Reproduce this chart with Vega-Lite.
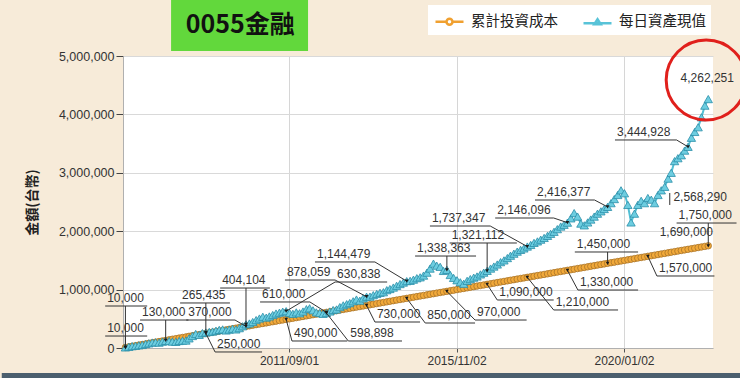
{
"$schema": "https://vega.github.io/schema/vega-lite/v6.json",
"width": 590, "height": 292, "autosize": {"type": "none"},
"padding": {"left": 123, "top": 56, "right": 27, "bottom": 30},
"background": "#f7ebd9",
"view": {"fill": "white", "stroke": null},
"config": {
  "font": "Liberation Sans",
  "legend": {"orient": "none", "legendX": 305, "legendY": -51, "direction": "horizontal", "fillColor": "white", "padding": 5, "symbolSize": 400, "symbolStrokeWidth": 2.5, "labelOffset": 15, "columnPadding": 20, "labelFont": "Noto Sans CJK TC", "labelFontSize": 14.5, "labelColor": "#222", "title": null}
},
"datasets": {
"m": [
{"d":"2007-08-06","c":10000,"v":10000},{"d":"2007-09-06","c":20000,"v":20500},{"d":"2007-10-06","c":30000,"v":31000},{"d":"2007-11-06","c":40000,"v":37500},{"d":"2007-12-06","c":50000,"v":46000},{"d":"2008-01-06","c":60000,"v":52000},{"d":"2008-02-06","c":70000,"v":68000},{"d":"2008-03-06","c":80000,"v":80000},{"d":"2008-04-06","c":90000,"v":94000},{"d":"2008-05-06","c":100000,"v":98000},{"d":"2008-06-06","c":110000,"v":92000},{"d":"2008-07-06","c":120000,"v":108000},
{"d":"2008-08-06","c":130000,"v":122000},{"d":"2008-09-06","c":140000,"v":118000},{"d":"2008-10-06","c":150000,"v":110000},{"d":"2008-11-06","c":160000,"v":105000},{"d":"2008-12-06","c":170000,"v":120000},{"d":"2009-01-06","c":180000,"v":125000},{"d":"2009-02-06","c":190000,"v":128000},{"d":"2009-03-06","c":200000,"v":165000},{"d":"2009-04-06","c":210000,"v":205000},{"d":"2009-05-06","c":220000,"v":240000},{"d":"2009-06-06","c":230000,"v":225000},{"d":"2009-07-06","c":240000,"v":255000},
{"d":"2009-08-06","c":250000,"v":265435},{"d":"2009-09-06","c":260000,"v":275000},{"d":"2009-10-06","c":270000,"v":282000},{"d":"2009-11-06","c":280000,"v":296000},{"d":"2009-12-06","c":290000,"v":310000},{"d":"2010-01-06","c":300000,"v":318000},{"d":"2010-02-06","c":310000,"v":300000},{"d":"2010-03-06","c":320000,"v":315000},{"d":"2010-04-06","c":330000,"v":330000},{"d":"2010-05-06","c":340000,"v":318000},{"d":"2010-06-06","c":350000,"v":340000},{"d":"2010-07-06","c":360000,"v":372000},
{"d":"2010-08-06","c":370000,"v":404104},{"d":"2010-09-06","c":380000,"v":420000},{"d":"2010-10-06","c":390000,"v":445000},{"d":"2010-11-06","c":400000,"v":478000},{"d":"2010-12-06","c":410000,"v":505000},{"d":"2011-01-06","c":420000,"v":535000},{"d":"2011-02-06","c":430000,"v":520000},{"d":"2011-03-06","c":440000,"v":540000},{"d":"2011-04-06","c":450000,"v":565000},{"d":"2011-05-06","c":460000,"v":590000},{"d":"2011-06-06","c":470000,"v":605000},{"d":"2011-07-06","c":480000,"v":622000},
{"d":"2011-08-06","c":490000,"v":630838},{"d":"2011-09-06","c":500000,"v":600000},{"d":"2011-10-06","c":510000,"v":585000},{"d":"2011-11-06","c":520000,"v":610000},{"d":"2011-12-06","c":530000,"v":595000},{"d":"2012-01-06","c":540000,"v":625000},{"d":"2012-02-06","c":550000,"v":665000},{"d":"2012-03-06","c":560000,"v":680000},{"d":"2012-04-06","c":570000,"v":645000},{"d":"2012-05-06","c":580000,"v":610000},{"d":"2012-06-06","c":590000,"v":600000},{"d":"2012-07-06","c":600000,"v":585000},
{"d":"2012-08-06","c":610000,"v":598898},{"d":"2012-09-06","c":620000,"v":625000},{"d":"2012-10-06","c":630000,"v":650000},{"d":"2012-11-06","c":640000,"v":660000},{"d":"2012-12-06","c":650000,"v":700000},{"d":"2013-01-06","c":660000,"v":730000},{"d":"2013-02-06","c":670000,"v":750000},{"d":"2013-03-06","c":680000,"v":770000},{"d":"2013-04-06","c":690000,"v":800000},{"d":"2013-05-06","c":700000,"v":830000},{"d":"2013-06-06","c":710000,"v":810000},{"d":"2013-07-06","c":720000,"v":850000},
{"d":"2013-08-06","c":730000,"v":878059},{"d":"2013-09-06","c":740000,"v":880000},{"d":"2013-10-06","c":750000,"v":905000},{"d":"2013-11-06","c":760000,"v":925000},{"d":"2013-12-06","c":770000,"v":945000},{"d":"2014-01-06","c":780000,"v":955000},{"d":"2014-02-06","c":790000,"v":990000},{"d":"2014-03-06","c":800000,"v":1010000},{"d":"2014-04-06","c":810000,"v":1035000},{"d":"2014-05-06","c":820000,"v":1065000},{"d":"2014-06-06","c":830000,"v":1095000},{"d":"2014-07-06","c":840000,"v":1120000},
{"d":"2014-08-06","c":850000,"v":1144479},{"d":"2014-09-06","c":860000,"v":1150000},{"d":"2014-10-06","c":870000,"v":1170000},{"d":"2014-11-06","c":880000,"v":1195000},{"d":"2014-12-06","c":890000,"v":1210000},{"d":"2015-01-06","c":900000,"v":1240000},{"d":"2015-02-06","c":910000,"v":1290000},{"d":"2015-03-06","c":920000,"v":1360000},{"d":"2015-04-06","c":930000,"v":1445000},{"d":"2015-05-06","c":940000,"v":1410000},{"d":"2015-06-06","c":950000,"v":1390000},{"d":"2015-07-06","c":960000,"v":1320000},
{"d":"2015-08-06","c":970000,"v":1338363},{"d":"2015-09-06","c":980000,"v":1250000},{"d":"2015-10-06","c":990000,"v":1200000},{"d":"2015-11-06","c":1000000,"v":1160000},{"d":"2015-12-06","c":1010000,"v":1125000},{"d":"2016-01-06","c":1020000,"v":1100000},{"d":"2016-02-06","c":1030000,"v":1150000},{"d":"2016-03-06","c":1040000,"v":1180000},{"d":"2016-04-06","c":1050000,"v":1205000},{"d":"2016-05-06","c":1060000,"v":1225000},{"d":"2016-06-06","c":1070000,"v":1260000},{"d":"2016-07-06","c":1080000,"v":1290000},
{"d":"2016-08-06","c":1090000,"v":1321112},{"d":"2016-09-06","c":1100000,"v":1360000},{"d":"2016-10-06","c":1110000,"v":1395000},{"d":"2016-11-06","c":1120000,"v":1430000},{"d":"2016-12-06","c":1130000,"v":1470000},{"d":"2017-01-06","c":1140000,"v":1500000},{"d":"2017-02-06","c":1150000,"v":1540000},{"d":"2017-03-06","c":1160000,"v":1580000},{"d":"2017-04-06","c":1170000,"v":1615000},{"d":"2017-05-06","c":1180000,"v":1650000},{"d":"2017-06-06","c":1190000,"v":1680000},{"d":"2017-07-06","c":1200000,"v":1705000},
{"d":"2017-08-06","c":1210000,"v":1737347},{"d":"2017-09-06","c":1220000,"v":1765000},{"d":"2017-10-06","c":1230000,"v":1800000},{"d":"2017-11-06","c":1240000,"v":1825000},{"d":"2017-12-06","c":1250000,"v":1855000},{"d":"2018-01-06","c":1260000,"v":1885000},{"d":"2018-02-06","c":1270000,"v":1920000},{"d":"2018-03-06","c":1280000,"v":1955000},{"d":"2018-04-06","c":1290000,"v":1990000},{"d":"2018-05-06","c":1300000,"v":2035000},{"d":"2018-06-06","c":1310000,"v":2080000},{"d":"2018-07-06","c":1320000,"v":2110000},
{"d":"2018-08-06","c":1330000,"v":2146096},{"d":"2018-09-06","c":1340000,"v":2220000},{"d":"2018-10-06","c":1350000,"v":2310000},{"d":"2018-11-06","c":1360000,"v":2250000},{"d":"2018-12-06","c":1370000,"v":2130000},{"d":"2019-01-06","c":1380000,"v":2100000},{"d":"2019-02-06","c":1390000,"v":2150000},{"d":"2019-03-06","c":1400000,"v":2200000},{"d":"2019-04-06","c":1410000,"v":2250000},{"d":"2019-05-06","c":1420000,"v":2300000},{"d":"2019-06-06","c":1430000,"v":2340000},{"d":"2019-07-06","c":1440000,"v":2380000},
{"d":"2019-08-06","c":1450000,"v":2416377},{"d":"2019-09-06","c":1460000,"v":2480000},{"d":"2019-10-06","c":1470000,"v":2550000},{"d":"2019-11-06","c":1480000,"v":2620000},{"d":"2019-12-06","c":1490000,"v":2700000},{"d":"2020-01-06","c":1500000,"v":2650000},{"d":"2020-02-06","c":1510000,"v":2450000},{"d":"2020-03-06","c":1520000,"v":2150000},{"d":"2020-04-06","c":1530000,"v":2300000},{"d":"2020-05-06","c":1540000,"v":2450000},{"d":"2020-06-06","c":1550000,"v":2520000},{"d":"2020-07-06","c":1560000,"v":2480000},
{"d":"2020-08-06","c":1570000,"v":2568290},{"d":"2020-09-06","c":1580000,"v":2540000},{"d":"2020-10-06","c":1590000,"v":2480000},{"d":"2020-11-06","c":1600000,"v":2620000},{"d":"2020-12-06","c":1610000,"v":2700000},{"d":"2021-01-06","c":1620000,"v":2760000},{"d":"2021-02-06","c":1630000,"v":2900000},{"d":"2021-03-06","c":1640000,"v":3000000},{"d":"2021-04-06","c":1650000,"v":3200000},{"d":"2021-05-06","c":1660000,"v":3250000},{"d":"2021-06-06","c":1670000,"v":3300000},{"d":"2021-07-06","c":1680000,"v":3380000},
{"d":"2021-08-06","c":1690000,"v":3444928},{"d":"2021-09-06","c":1700000,"v":3600000},{"d":"2021-10-06","c":1710000,"v":3700000},{"d":"2021-11-06","c":1720000,"v":3780000},{"d":"2021-12-06","c":1730000,"v":3950000},{"d":"2022-01-06","c":1740000,"v":4150000},{"d":"2022-02-06","c":1750000,"v":4262251}
],
"ann": [
{"t":"10,000","a":"2007-02-03","b":"2008-02-20","u":719000,"s":"2007-08-06","e":"2007-08-06","f":10000},
{"t":"10,000","a":"2007-02-03","b":"2008-02-20","u":205000,"s":"2007-08-06","e":"2007-08-06","f":10000},
{"t":"130,000","a":"2007-12-17","b":"2009-03-01","u":479000,"s":"2008-08-06","e":"2008-08-06","f":130000},
{"t":"370,000","a":"2009-02-09","b":"2010-04-28","u":479000,"s":"2010-04-28","e":"2010-08-06","f":370000},
{"t":"265,435","a":"2008-12-15","b":"2010-03-13","u":771000,"s":"2009-08-06","e":"2009-08-06","f":265435},
{"t":"404,104","a":"2009-12-14","b":"2011-03-11","u":1027000,"s":"2010-08-06","e":"2010-08-06","f":404104},
{"t":"250,000","a":"2009-10-29","b":"2010-12-30","u":-68000,"s":"2009-10-29","e":"2009-08-06","f":250000},
{"t":"610,000","a":"2010-12-12","b":"2012-03-09","u":788000,"s":"2012-03-09","e":"2012-08-06","f":610000},
{"t":"878,059","a":"2011-07-26","b":"2012-10-24","u":1164000,"s":"2012-10-24","e":"2013-08-06","f":878059},
{"t":"630,838","a":"2012-10-24","b":"2014-02-09","u":1130000,"s":"2012-10-24","e":"2011-08-06","f":630838},
{"t":"1,144,479","a":"2012-04-24","b":"2013-10-21","u":1473000,"s":"2013-10-21","e":"2014-08-06","f":1144479},
{"t":"598,898","a":"2013-02-21","b":"2014-06-24","u":120000,"s":"2013-02-21","e":"2012-08-06","f":598898},
{"t":"490,000","a":"2011-09-28","b":"2013-02-12","u":120000,"s":"2011-09-28","e":"2011-08-06","f":490000},
{"t":"730,000","a":"2013-10-21","b":"2014-12-05","u":445000,"s":"2013-10-21","e":"2013-08-06","f":730000},
{"t":"850,000","a":"2015-01-21","b":"2016-04-18","u":428000,"s":"2015-01-21","e":"2014-08-06","f":850000},
{"t":"970,000","a":"2016-04-18","b":"2017-07-31","u":479000,"s":"2016-04-18","e":"2015-08-06","f":970000},
{"t":"1,090,000","a":"2016-11-06","b":"2018-04-03","u":822000,"s":"2016-11-06","e":"2016-08-06","f":1090000},
{"t":"1,210,000","a":"2018-04-03","b":"2019-11-09","u":651000,"s":"2018-04-03","e":"2017-08-06","f":1210000},
{"t":"1,330,000","a":"2018-11-09","b":"2020-05-09","u":993000,"s":"2018-11-09","e":"2018-08-06","f":1330000},
{"t":"1,450,000","a":"2018-10-12","b":"2020-05-09","u":1644000,"s":"2019-08-06","e":"2019-08-06","f":1450000},
{"t":"1,570,000","a":"2020-10-27","b":"2022-04-03","u":1233000,"s":"2020-10-27","e":"2020-08-06","f":1570000},
{"t":"1,690,000","a":"2020-11-03","b":"2020-11-03","u":1849000},
{"t":"1,750,000","a":"2021-04-24","b":"2022-10-21","u":2140000,"s":"2022-02-06","e":"2022-02-06","f":1750000},
{"t":"2,568,290","a":"2021-03-08","b":"2021-03-08","u":2449000,"s":"2021-02-21","e":"2021-02-21","f":2654000},
{"t":"3,444,928","a":"2019-10-12","b":"2021-04-24","u":3562000,"s":"2021-04-24","e":"2021-08-06","f":3444928},
{"t":"4,262,251","a":"2021-05-12","b":"2021-05-12","u":4486000},
{"t":"2,416,377","a":"2017-10-15","b":"2019-04-09","u":2534000,"s":"2019-04-09","e":"2019-08-06","f":2416377},
{"t":"2,146,096","a":"2016-10-18","b":"2018-04-03","u":2226000,"s":"2018-04-03","e":"2018-08-06","f":2146096},
{"t":"1,737,347","a":"2015-03-05","b":"2016-09-03","u":2089000,"s":"2016-09-03","e":"2017-08-06","f":1737347},
{"t":"1,321,112","a":"2015-08-31","b":"2017-05-03","u":1798000,"s":"2016-08-06","e":"2016-08-06","f":1321112},
{"t":"1,338,363","a":"2014-10-21","b":"2016-04-27","u":1575000,"s":"2015-08-06","e":"2015-08-06","f":1338363}
]
},
"encoding": {
  "x": {"field": "d", "type": "temporal",
    "scale": {"type": "utc", "domain": [{"year": 2007, "month": 7, "date": 15, "utc": true}, {"year": 2022, "month": 3, "date": 21, "utc": true}]},
    "axis": {"title": null, "values": [{"year": 2011, "month": 9, "date": 1, "utc": true}, {"year": 2015, "month": 11, "date": 2, "utc": true}, {"year": 2020, "month": 1, "date": 2, "utc": true}], "format": "%Y/%m/%d", "grid": true, "gridColor": "#d6d6d6", "domainColor": "#b0b0b0", "tickColor": "#555", "tickSize": 4, "labelFontSize": 12, "labelColor": "#333", "labelPadding": 3}},
  "y": {"field": "c", "type": "quantitative",
    "scale": {"domain": [0, 5000000], "nice": false},
    "axis": {"title": "金額(台幣)", "values": [0, 1000000, 2000000, 3000000, 4000000, 5000000], "format": ",d", "grid": true, "gridColor": "#d9d9d9", "domainColor": "#b0b0b0", "tickColor": "#444", "tickSize": 7, "labelFontSize": 12.5, "labelColor": "#333", "labelPadding": 2, "titleFont": "Noto Sans CJK TC", "titleFontSize": 14, "titleFontWeight": "bold", "titleColor": "#222", "titleX": -84, "titleY": 146}}
},
"layer": [
  {"data": {"values": [{"x": "2008-09-24", "x2": "2012-02-21", "y": 5086000, "y2": 6040000}]},
   "mark": {"type": "rect", "color": "#62d83c"},
   "encoding": {"x": {"field": "x", "type": "temporal"}, "x2": {"field": "x2"}, "y": {"field": "y", "type": "quantitative"}, "y2": {"field": "y2"}}},
  {"data": {"values": [{"x": "2010-06-15", "y": 5530000, "t": "0055金融"}]},
   "mark": {"type": "text", "font": "Noto Sans CJK TC", "fontSize": 25, "fontWeight": "bold", "color": "#111", "align": "center", "baseline": "middle"},
   "encoding": {"x": {"field": "x", "type": "temporal"}, "y": {"field": "y", "type": "quantitative"}, "text": {"field": "t"}}},
  {"data": {"values": [{"x": "2004-07-08", "x2": "2023-01-06", "y": -430000, "y2": -600000}]},
   "mark": {"type": "rect", "color": "#4c5f6e"},
   "encoding": {"x": {"field": "x", "type": "temporal"}, "x2": {"field": "x2"}, "y": {"field": "y", "type": "quantitative"}, "y2": {"field": "y2"}}},
  {"data": {"name": "m"}, "mark": {"type": "line", "color": "#e8a034", "strokeWidth": 2}},
  {"data": {"name": "m"}, "mark": {"type": "point", "shape": "circle", "filled": true, "size": 42, "fill": "#f1a93a", "stroke": "#a8742a", "strokeWidth": 0.8, "opacity": 1}},
  {"data": {"name": "m"}, "mark": {"type": "line", "color": "#52bfd4", "strokeWidth": 2}, "encoding": {"y": {"field": "v", "type": "quantitative"}}},
  {"data": {"name": "m"}, "mark": {"type": "point", "shape": "triangle-up", "filled": true, "size": 70, "fill": "#6dcde0", "stroke": "#2a8ea8", "strokeWidth": 0.8, "opacity": 1}, "encoding": {"y": {"field": "v", "type": "quantitative"}}},
  {"data": {"name": "m"}, "transform": [{"fold": ["c", "v"], "as": ["s", "amt"]}],
   "mark": {"type": "point", "filled": false, "strokeWidth": 2.5, "clip": true, "opacity": 1},
   "encoding": {"y": {"datum": -1000000, "type": "quantitative"},
     "color": {"field": "s", "type": "nominal", "scale": {"domain": ["c", "v"], "range": ["#f0a030", "#58c3d8"]}, "legend": {"labelExpr": "datum.label == 'c' ? '累計投資成本' : '每日資產現值'"}},
     "shape": {"field": "s", "type": "nominal", "scale": {"domain": ["c", "v"], "range": ["M-0.9,0H0.2M0.8,0H1.9M0.8,0A0.3,0.3 0 1 1 0.2,0A0.3,0.3 0 1 1 0.8,0Z", "M-0.9,0.1H1.9M0.5,-0.3L0.82,0.2L0.18,0.2Z"]}, "legend": {"labelExpr": "datum.label == 'c' ? '累計投資成本' : '每日資產現值'"}}}},
  {"data": {"name": "ann"}, "mark": {"type": "rule", "color": "#333", "strokeWidth": 1},
   "encoding": {"x": {"field": "a", "type": "temporal"}, "x2": {"field": "b"}, "y": {"field": "u", "type": "quantitative"}}},
  {"data": {"name": "ann"}, "transform": [{"filter": "datum.s != null"}], "mark": {"type": "rule", "color": "#333", "strokeWidth": 1},
   "encoding": {"x": {"field": "s", "type": "temporal"}, "x2": {"field": "e"}, "y": {"field": "u", "type": "quantitative"}, "y2": {"field": "f"}}},
  {"data": {"name": "ann"}, "transform": [{"filter": "datum.s != null && datum.t != '2,568,290'"}], "mark": {"type": "point", "shape": "triangle-down", "filled": true, "size": 14, "color": "#1a1a1a", "opacity": 1},
   "encoding": {"x": {"field": "e", "type": "temporal"}, "y": {"field": "f", "type": "quantitative"}}},
  {"data": {"name": "ann"}, "mark": {"type": "text", "align": "left", "baseline": "bottom", "dx": 2, "dy": -1, "fontSize": 12, "color": "#333"},
   "encoding": {"x": {"field": "a", "type": "temporal"}, "y": {"field": "u", "type": "quantitative"}, "text": {"field": "t"}}},
  {"data": {"values": [{"x": "2022-01-18", "y": 4589000}]},
   "mark": {"type": "point", "shape": "circle", "filled": false, "size": 6400, "stroke": "#e0201c", "strokeWidth": 3, "opacity": 1},
   "encoding": {"x": {"field": "x", "type": "temporal"}, "y": {"field": "y", "type": "quantitative"}}}
]
}
